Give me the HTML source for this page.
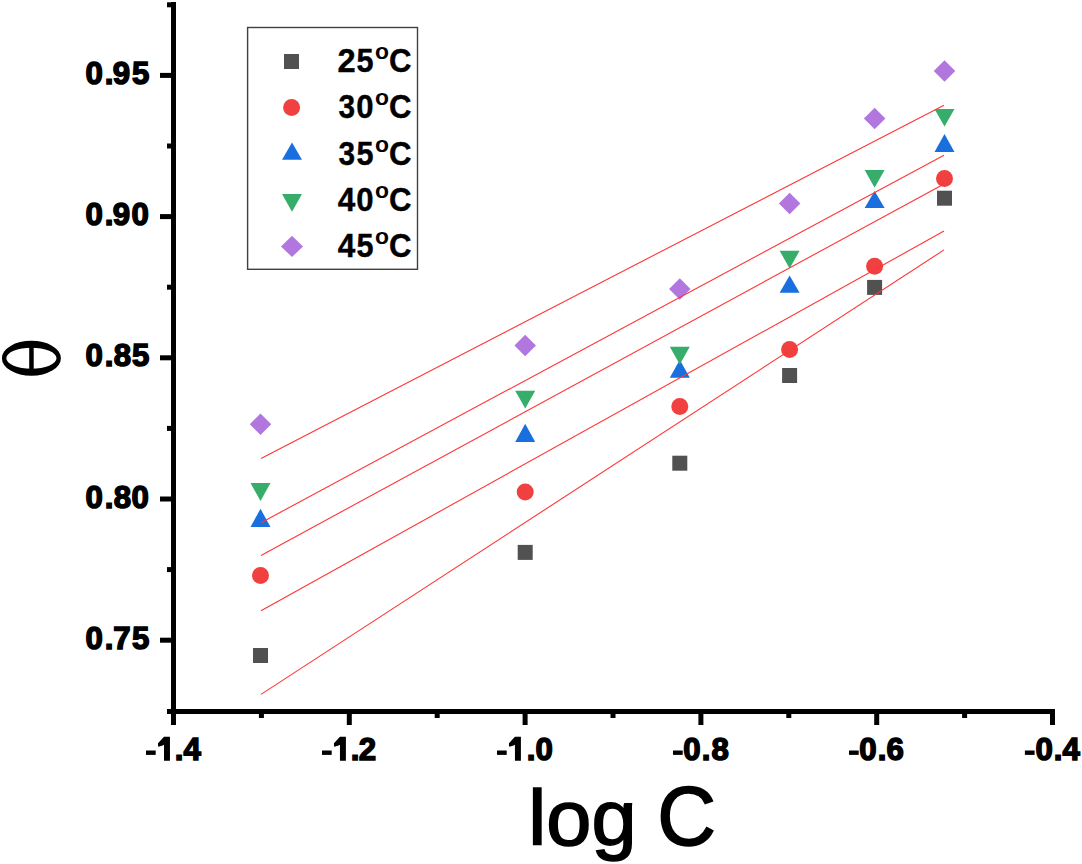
<!DOCTYPE html>
<html>
<head>
<meta charset="utf-8">
<style>
html,body{margin:0;padding:0;background:#fff;}
body{width:1082px;height:864px;overflow:hidden;}
svg{display:block;}
.tk{font-family:"Liberation Sans",sans-serif;font-weight:bold;font-size:32.2px;fill:#000;stroke:#000;stroke-width:1.5px;}
.tk path{stroke:none;}
.lg{font-family:"Liberation Sans",sans-serif;font-weight:bold;font-size:34px;fill:#000;stroke:#000;stroke-width:0.4px;}
.lg .sup{font-size:22px;stroke-width:0;}
.ttl{font-family:"Liberation Sans",sans-serif;font-weight:normal;font-size:81px;fill:#000;stroke:#000;stroke-width:1.6px;}
</style>
</head>
<body>
<svg width="1082" height="864" viewBox="0 0 1082 864">
<rect x="0" y="0" width="1082" height="864" fill="#fff"/>

<!-- axes -->
<g fill="#000">
<rect x="171" y="2" width="5" height="712"/>
<rect x="167" y="709" width="888" height="5"/>
<!-- y major ticks -->
<rect x="160" y="72.9" width="11" height="5"/>
<rect x="160" y="214.1" width="11" height="5"/>
<rect x="160" y="355.3" width="11" height="5"/>
<rect x="160" y="496.5" width="11" height="5"/>
<rect x="160" y="637.7" width="11" height="5"/>
<!-- y minor ticks -->
<rect x="167" y="2.3" width="4" height="5"/>
<rect x="167" y="143.5" width="4" height="5"/>
<rect x="167" y="284.7" width="4" height="5"/>
<rect x="167" y="425.9" width="4" height="5"/>
<rect x="167" y="567.1" width="4" height="5"/>
<!-- x major ticks -->
<rect x="171" y="714" width="5" height="11"/>
<rect x="346.8" y="714" width="5" height="11"/>
<rect x="522.6" y="714" width="5" height="11"/>
<rect x="698.4" y="714" width="5" height="11"/>
<rect x="874.2" y="714" width="5" height="11"/>
<rect x="1050" y="714" width="5" height="11"/>
<!-- x minor ticks -->
<rect x="258.9" y="714" width="5" height="4"/>
<rect x="434.7" y="714" width="5" height="4"/>
<rect x="610.5" y="714" width="5" height="4"/>
<rect x="786.3" y="714" width="5" height="4"/>
<rect x="962.1" y="714" width="5" height="4"/>
</g>

<!-- tick labels -->
<g class="tk">
<text transform="translate(85.41,83.93) scale(0.97,1)">0</text><text transform="translate(104.63,83.93) scale(0.97,1)">.</text><text transform="translate(112.67,83.93) scale(0.97,1)">9</text><text transform="translate(131.89,83.93) scale(0.97,1)">5</text>
<text transform="translate(85.41,225.18) scale(0.97,1)">0</text><text transform="translate(104.63,225.18) scale(0.97,1)">.</text><text transform="translate(112.67,225.18) scale(0.97,1)">9</text><text transform="translate(131.61,225.18) scale(0.97,1)">0</text>
<text transform="translate(85.41,366.43) scale(0.97,1)">0</text><text transform="translate(104.63,366.43) scale(0.97,1)">.</text><text transform="translate(113.66,366.43) scale(0.97,1)">8</text><text transform="translate(131.89,366.43) scale(0.97,1)">5</text>
<text transform="translate(85.41,507.68) scale(0.97,1)">0</text><text transform="translate(104.63,507.68) scale(0.97,1)">.</text><text transform="translate(113.66,507.68) scale(0.97,1)">8</text><text transform="translate(131.61,507.68) scale(0.97,1)">0</text>
<text transform="translate(85.41,648.93) scale(0.97,1)">0</text><text transform="translate(104.63,648.93) scale(0.97,1)">.</text><text transform="translate(113.31,648.93) scale(0.97,1)">7</text><text transform="translate(131.89,648.93) scale(0.97,1)">5</text>
<rect x="146.00" y="750.5" width="9.7" height="4.4" style="stroke:none"/><path d="M164.00 736.85 H169.95 V760.80 H164.00 V744.75 L162.65 745.55 L158.45 746.75 L158.00 745.75 L158.00 743.25 L164.00 736.85 Z"/><text transform="translate(174.63,759.90) scale(0.97,1)">.</text><text transform="translate(183.38,759.90) scale(0.97,1)">4</text>
<rect x="322.00" y="750.5" width="9.7" height="4.4" style="stroke:none"/><path d="M339.95 736.85 H345.90 V760.80 H339.95 V744.75 L338.60 745.55 L334.40 746.75 L333.95 745.75 L333.95 743.25 L339.95 736.85 Z"/><text transform="translate(350.63,759.90) scale(0.97,1)">.</text><text transform="translate(358.77,759.90) scale(0.97,1)">2</text>
<rect x="497.00" y="750.5" width="9.7" height="4.4" style="stroke:none"/><path d="M514.95 736.85 H520.90 V760.80 H514.95 V744.75 L513.60 745.55 L509.40 746.75 L508.95 745.75 L508.95 743.25 L514.95 736.85 Z"/><text transform="translate(526.73,759.90) scale(0.97,1)">.</text><text transform="translate(535.41,759.90) scale(0.97,1)">0</text>
<rect x="673.00" y="750.5" width="9.7" height="4.4" style="stroke:none"/><text transform="translate(683.31,759.90) scale(0.97,1)">0</text><text transform="translate(701.63,759.90) scale(0.97,1)">.</text><text transform="translate(711.51,759.90) scale(0.97,1)">8</text>
<rect x="849.00" y="750.5" width="9.7" height="4.4" style="stroke:none"/><text transform="translate(859.31,759.90) scale(0.97,1)">0</text><text transform="translate(877.63,759.90) scale(0.97,1)">.</text><text transform="translate(886.61,759.90) scale(0.97,1)">6</text>
<rect x="1024.90" y="750.5" width="9.7" height="4.4" style="stroke:none"/><text transform="translate(1035.41,759.90) scale(0.97,1)">0</text><text transform="translate(1053.63,759.90) scale(0.97,1)">.</text><text transform="translate(1062.38,759.90) scale(0.97,1)">4</text>
</g>

<!-- axis titles -->
<text class="ttl" transform="translate(528.3,844.8) scale(1.04,1)" style="font-size:78px">log</text>
<text class="ttl" transform="translate(657.3,845) scale(0.98,1)" style="font-size:83px">C</text>
<path fill="#000" fill-rule="evenodd" d="M1.90 358.25 a29.50 17.50 0 1 0 59.00 0 a29.50 17.50 0 1 0 -59.00 0 Z M6.30 358.25 a25.10 10.60 0 1 0 50.20 0 a25.10 10.60 0 1 0 -50.20 0 Z"/>
<rect x="29.2" y="345" width="4.5" height="26" fill="#000"/>

<!-- markers: squares -->
<g fill="#515151">
<rect x="253" y="648" width="15" height="15"/>
<rect x="517.7" y="544.9" width="15" height="15"/>
<rect x="672.3" y="455.7" width="15" height="15"/>
<rect x="782.1" y="368" width="15" height="15"/>
<rect x="867.1" y="279.9" width="15" height="15"/>
<rect x="937" y="190.7" width="15" height="15"/>
</g>
<!-- circles -->
<g fill="#f14040">
<circle cx="260.5" cy="575.4" r="8.5"/>
<circle cx="525.2" cy="492.1" r="8.5"/>
<circle cx="679.8" cy="406.4" r="8.5"/>
<circle cx="789.6" cy="349.4" r="8.5"/>
<circle cx="874.6" cy="266.3" r="8.5"/>
<circle cx="944.5" cy="178.4" r="8.5"/>
</g>
<!-- blue up triangles -->
<g fill="#1a6fdf">
<polygon points="260.5,508.8 270.5,526.9 250.5,526.9"/>
<polygon points="525.2,423.8 535.2,441.9 515.2,441.9"/>
<polygon points="679.8,359.7 689.8,377.7 669.8,377.7"/>
<polygon points="789.6,275.5 799.6,292.8 779.6,292.8"/>
<polygon points="874.6,191 884.6,207.9 864.6,207.9"/>
<polygon points="944.5,133.9 954.5,152.1 934.5,152.1"/>
</g>
<!-- green down triangles -->
<g fill="#37ad6b">
<polygon points="250.5,483 270.5,483 260.5,501"/>
<polygon points="515.2,390.8 535.2,390.8 525.2,408.5"/>
<polygon points="669.8,346.8 689.8,346.8 679.8,364.5"/>
<polygon points="779.6,250.8 799.6,250.8 789.6,268.5"/>
<polygon points="864.6,170.1 884.6,170.1 874.6,187.8"/>
<polygon points="934.5,109 954.5,109 944.5,126.6"/>
</g>
<!-- diamonds -->
<g fill="#b177de">
<polygon points="260.50,413.45 271.25,424.20 260.50,434.95 249.75,424.20"/>
<polygon points="525.20,334.85 535.95,345.60 525.20,356.35 514.45,345.60"/>
<polygon points="679.80,278.25 690.55,289.00 679.80,299.75 669.05,289.00"/>
<polygon points="789.60,192.65 800.35,203.40 789.60,214.15 778.85,203.40"/>
<polygon points="874.60,107.75 885.35,118.50 874.60,129.25 863.85,118.50"/>
<polygon points="944.50,60.25 955.25,71.00 944.50,81.75 933.75,71.00"/>
</g>

<!-- fit lines -->
<g stroke="#ff3535" stroke-width="1.1" fill="none">
<line x1="261" y1="458.4" x2="944" y2="105.2"/>
<line x1="261" y1="522.7" x2="944" y2="155.2"/>
<line x1="261" y1="555.5" x2="944" y2="183.9"/>
<line x1="261" y1="610.8" x2="944" y2="231.1"/>
<line x1="261" y1="694.4" x2="944" y2="249.9"/>
</g>

<!-- legend -->
<rect x="247.6" y="27.5" width="169.9" height="241.8" fill="none" stroke="#404040" stroke-width="1.4"/>
<rect x="284" y="54" width="15" height="15" fill="#515151"/>
<circle cx="291.6" cy="107.4" r="8.5" fill="#f14040"/>
<polygon points="292,142.6 302,159.8 282,159.8" fill="#1a6fdf"/>
<polygon points="282,194 302,194 292,211.7" fill="#37ad6b"/>
<polygon points="292,235.7 303,246.4 292,257 281,246.4" fill="#b177de"/>
<g class="lg">
<text transform="translate(337.57,71.8) scale(0.960,1)">2</text><text transform="translate(356.46,71.8) scale(0.900,1)">5</text><text class="sup" transform="translate(375.0,58.8) scale(1.04,1)">o</text><text transform="translate(389.0,71.8) scale(0.918,1)">C</text>
<text transform="translate(338.62,118.2) scale(0.876,1)">3</text><text transform="translate(356.17,118.2) scale(0.915,1)">0</text><text class="sup" transform="translate(375.0,105.2) scale(1.04,1)">o</text><text transform="translate(389.0,118.2) scale(0.918,1)">C</text>
<text transform="translate(338.62,164.5) scale(0.876,1)">3</text><text transform="translate(356.46,164.5) scale(0.900,1)">5</text><text class="sup" transform="translate(375.0,151.5) scale(1.04,1)">o</text><text transform="translate(389.0,164.5) scale(0.918,1)">C</text>
<text transform="translate(337.82,210.8) scale(0.928,1)">4</text><text transform="translate(356.17,210.8) scale(0.915,1)">0</text><text class="sup" transform="translate(375.0,197.8) scale(1.04,1)">o</text><text transform="translate(389.0,210.8) scale(0.918,1)">C</text>
<text transform="translate(337.82,257.1) scale(0.928,1)">4</text><text transform="translate(356.46,257.1) scale(0.900,1)">5</text><text class="sup" transform="translate(375.0,244.1) scale(1.04,1)">o</text><text transform="translate(389.0,257.1) scale(0.918,1)">C</text>
</g>
</svg>
</body>
</html>
